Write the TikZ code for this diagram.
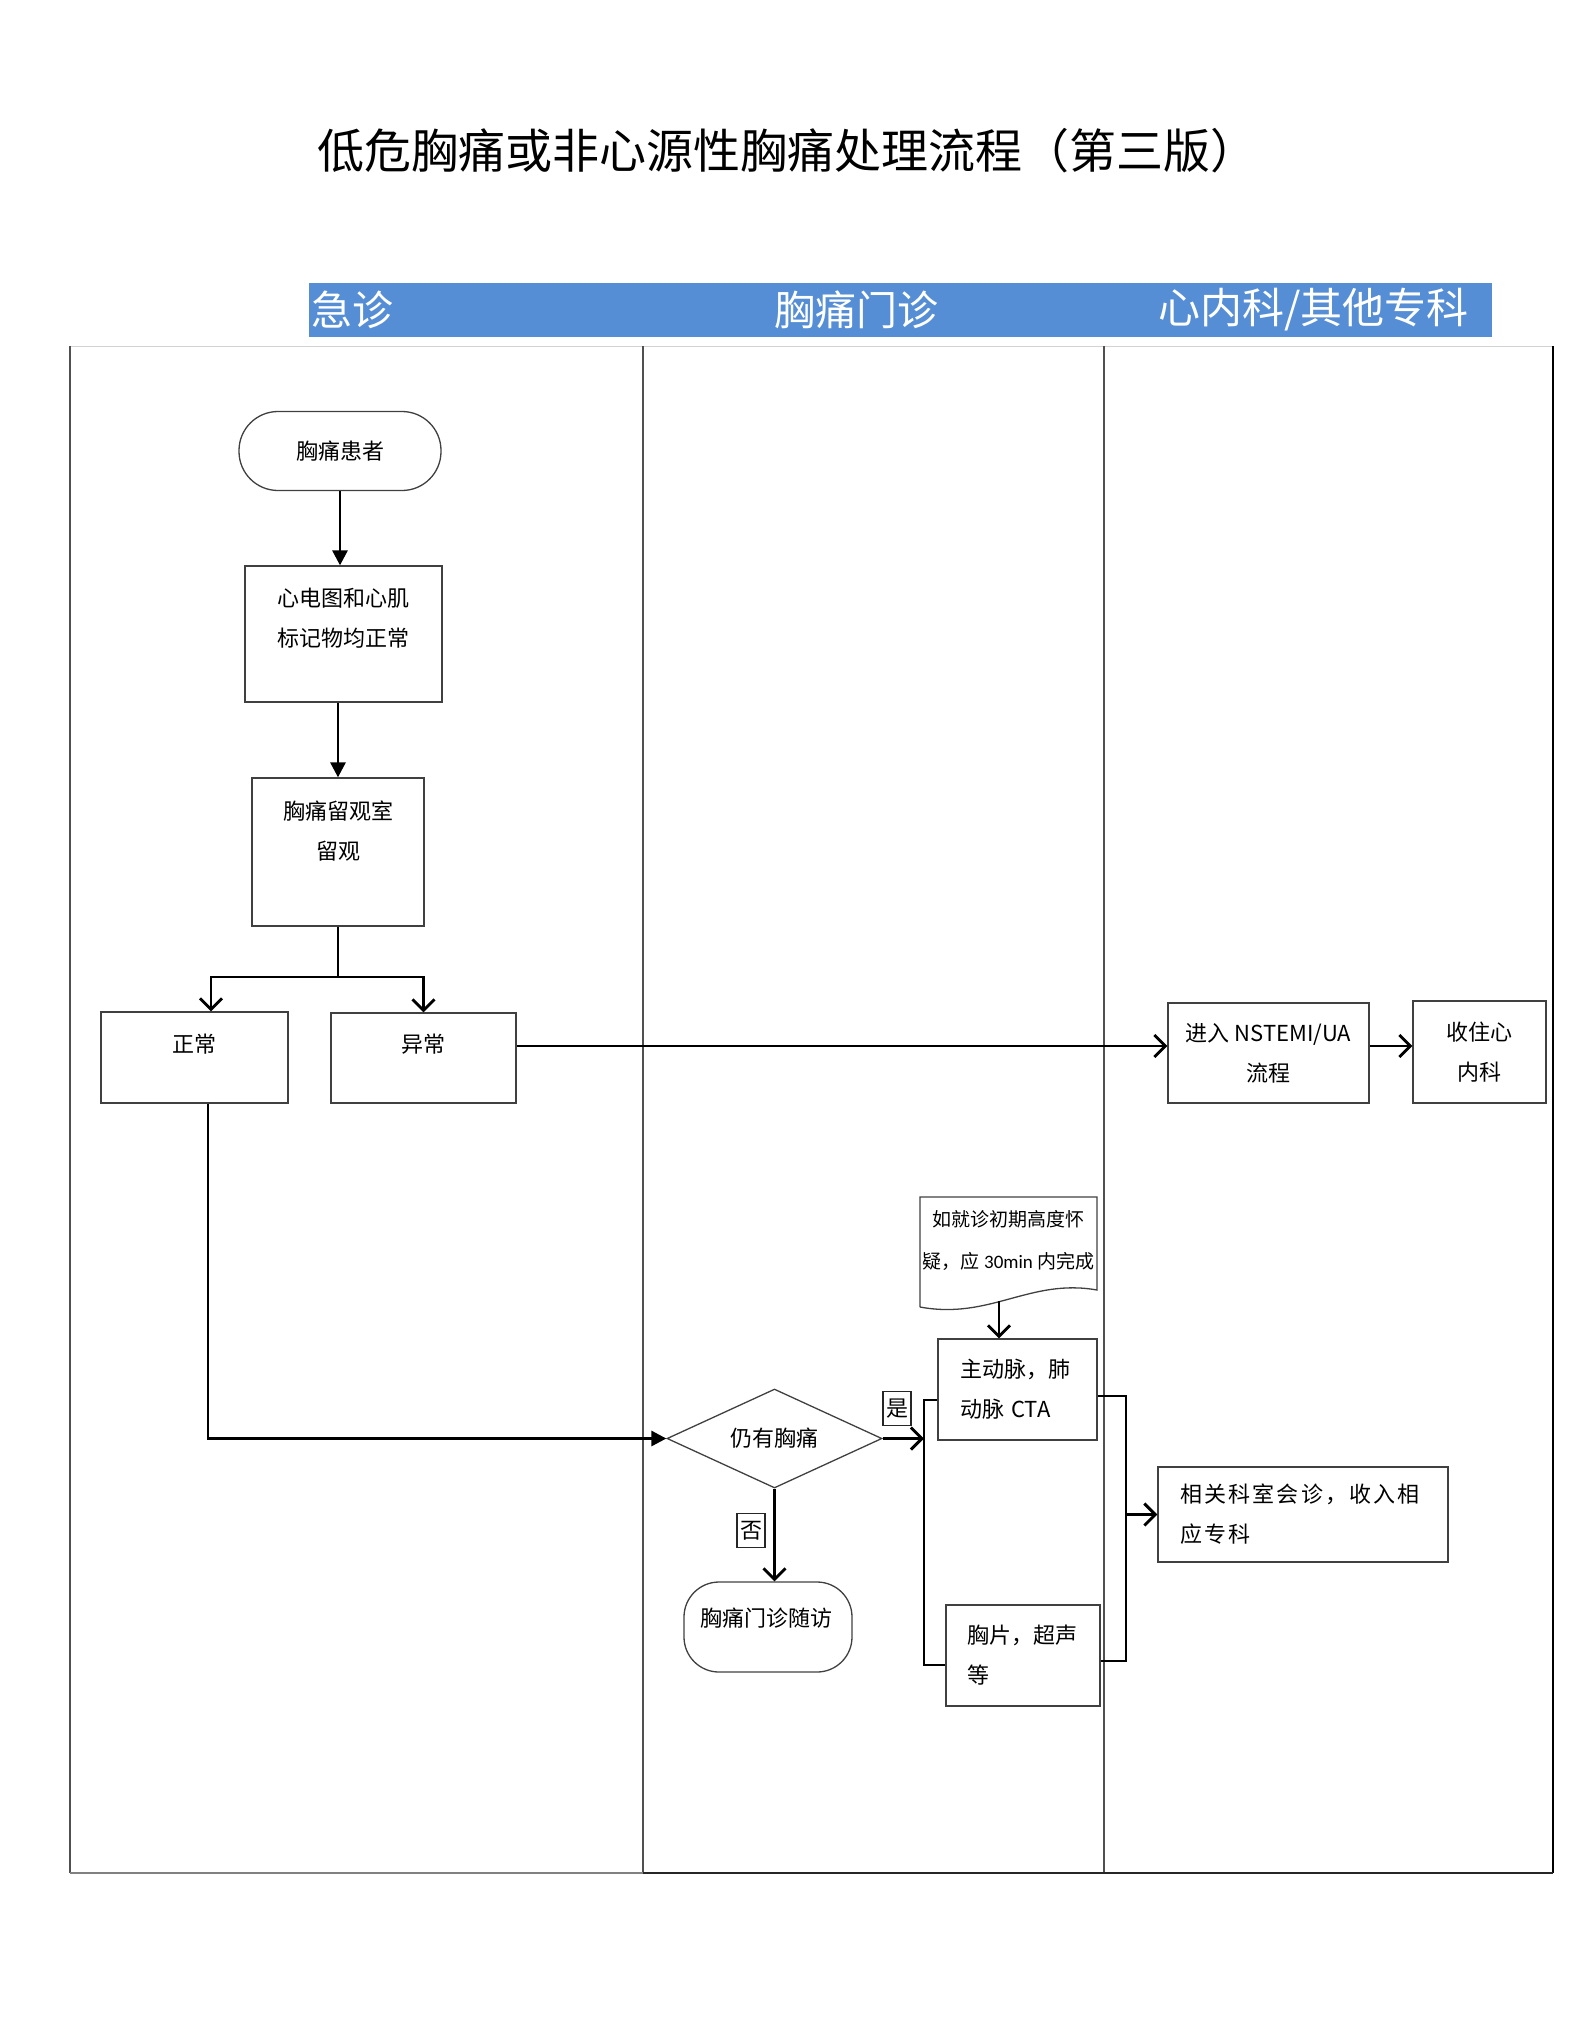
\documentclass[tikz,border=0pt]{standalone}
\usepackage{fontspec}
\setmainfont{Noto Sans CJK SC}
\newfontfamily\latinnum{Carlito}
\usetikzlibrary{arrows.meta,shapes.geometric}
\definecolor{hdrblue}{RGB}{85,142,213}
\definecolor{lanegray}{RGB}{80,80,80}
\begin{document}
\begin{tikzpicture}[x=1pt,y=-1pt,
  box/.style={draw=black!75, line width=1.3pt, rectangle, inner sep=0pt},
  txt/.style={font=\fontsize{22}{40}\selectfont, align=center, inner sep=0pt},
  conn/.style={line width=2.9pt},
  solidtip/.style={conn, -{Triangle[length=15pt,width=15pt]}},
  opentip/.style={conn, -{Straight Barb[length=11pt,width=22pt]}},
  tag/.style={draw=black!85, line width=1.3pt, inner sep=3pt, minimum height=34pt, font=\fontsize{22}{24}\selectfont}
]
\useasboundingbox (0,0) rectangle (1571,2034);

% title
\node[font=\fontsize{47}{52}\selectfont, inner sep=0pt] (title) at (787,151) {低危胸痛或非心源性胸痛处理流程（第三版）};

% header bar
\fill[hdrblue] (309,283) rectangle (1492,337);
\node[anchor=west, text=white, font=\fontsize{41}{44}\selectfont, inner sep=0pt] (h1) at (311,310) {急诊};
\node[text=white, font=\fontsize{41}{44}\selectfont, inner sep=0pt] (h2) at (856,310) {胸痛门诊};
\node[anchor=east, text=white, font=\fontsize{42}{44}\selectfont, inner sep=0pt] (h3) at (1469,310) {心内科/其他专科};

% lanes
\draw[gray!35, line width=1pt] (70,346) -- (1553,346);
\draw[lanegray, line width=1.3pt] (70,346) -- (70,1873);
\draw[lanegray, line width=1.3pt] (643,346) -- (643,1873);
\draw[lanegray, line width=1.3pt] (1104,346) -- (1104,1873);
\draw[black, line width=1.8pt] (1553,346) -- (1553,1873);
\draw[gray, line width=2.2pt] (70,1873) -- (643,1873);
\draw[black!85, line width=2.2pt] (643,1873) -- (1553,1873);

% nodes
\node[box, rounded corners=39pt, minimum width=202pt, minimum height=79pt, txt] (patient) at (340,451) {胸痛患者};

\node[box, minimum width=197pt, minimum height=136pt] (ecg) at (343.5,634) {};
\node[txt] (ecgT) at (343.5,618) {心电图和心肌\\标记物均正常};

\node[box, minimum width=172pt, minimum height=148pt] (obs) at (338,852) {};
\node[txt] (obsT) at (338,831) {胸痛留观室\\留观};

\node[box, minimum width=187pt, minimum height=91pt] (normal) at (194.5,1057.5) {};
\node[txt] (normalT) at (194.5,1044) {正常};
\node[box, minimum width=185pt, minimum height=90pt] (abnormal) at (423.5,1058) {};
\node[txt] (abnormalT) at (423.5,1044) {异常};

\node[box, minimum width=201pt, minimum height=100pt, txt] (nstemi) at (1268.5,1053) {进入 NSTEMI/UA\\流程};
\node[box, minimum width=133pt, minimum height=102pt, txt] (admit) at (1479.5,1052) {收住心\\内科};

% document shape
\node[minimum width=177pt, minimum height=86pt, inner sep=0pt] (doc) at (1008.5,1240) {};
\draw[black!75, line width=1.3pt] (920,1307) -- (920,1197) -- (1097,1197) -- (1097,1290)
  .. controls (1030,1278) and (990,1320) .. (920,1307);
\node[txt, font=\fontsize{19}{42}\selectfont] (docT) at (1008.5,1240) {如就诊初期高度怀\\疑，应 {\latinnum 30min} 内完成};

\node[box, txt, align=left, text width=115pt, inner xsep=22pt, minimum height=101pt] (cta) at (1017.5,1389.5) {主动脉，肺\\动脉 CTA};
\node[box, txt, align=left, text width=112pt, inner xsep=21pt, minimum height=101pt] (xray) at (1023,1655.5) {胸片，超声\\等};
\node[box, txt, align=left, text width=246pt, inner xsep=22pt, minimum height=95pt, font=\fontsize{22}{40}\selectfont\addfontfeatures{LetterSpace=10}] (consult) at (1303,1514.5) {相关科室会诊，收入相\\应专科};

\node[draw=black!75, line width=1.3pt, diamond, aspect=2.17, minimum width=215pt, minimum height=99pt, inner sep=0pt, txt] (dia) at (774.5,1438.5) {仍有胸痛};

\node[box, rounded corners=35pt, minimum width=168pt, minimum height=90pt] (followup) at (768,1627) {};
\node[txt] (followupT) at (766,1618) {胸痛门诊随访};

\node[tag] (yes) at (897,1408.5) {是};
\node[tag] (no) at (751,1530.5) {否};

% connectors
\draw[solidtip] (patient.south) -- (patient.south |- ecg.north);
\draw[solidtip] (ecg.south -| obs.north) -- (obs.north);
\coordinate (fork) at (338,977);
\draw[conn] (obs.south) -- (fork);
\draw[opentip] (fork) -| ([xshift=16.5pt]normal.north);
\draw[opentip] (fork) -| (abnormal.north);
\draw[solidtip] ([xshift=13.5pt]normal.south) |- (dia.west);

\coordinate (ab1) at ([yshift=12pt]abnormal.east);
\draw[opentip] (ab1) -- (ab1 -| nstemi.west);
\coordinate (ns1) at ([yshift=7pt]nstemi.east);
\draw[opentip] (ns1) -- (ns1 -| admit.west);

\coordinate (bTop) at (924,1400);
\coordinate (bBot) at (924,1665);
\draw[opentip] (dia.east) -- (dia.east -| bTop);
\draw[conn] (bTop -| cta.west) -- (bTop) -- (bBot) -- (bBot -| xray.west);

\coordinate (rTop) at (1126,1396);
\coordinate (rBot) at (1126,1661);
\draw[conn] (rTop -| cta.east) -- (rTop) -- (rBot) -- (rBot -| xray.east);
\draw[opentip] (rTop |- consult.west) -- (consult.west);

\draw[opentip] (dia.south) -- (dia.south |- followup.north);

\coordinate (dtip) at (999,1301);
\draw[opentip] (dtip) -- (dtip |- cta.north);
\end{tikzpicture}
\end{document}
